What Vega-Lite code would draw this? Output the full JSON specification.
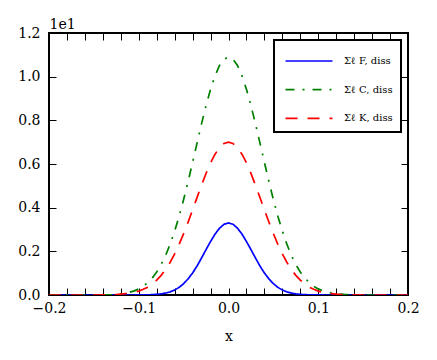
{
  "$schema": "https://vega.github.io/schema/vega-lite/v6.json",
  "width": 359,
  "height": 262,
  "autosize": "none",
  "padding": {"left": 49, "top": 33, "right": 29, "bottom": 65},
  "background": "white",
  "config": {
    "font": "DejaVu Serif",
    "view": {"stroke": "black", "strokeWidth": 2},
    "axis": {"domain": false, "grid": false, "labelFont": "DejaVu Serif", "labelFontSize": 14, "labelColor": "black", "tickColor": "black", "tickWidth": 1, "titleFont": "DejaVu Serif", "titleFontSize": 14, "titleFontWeight": "normal", "titleColor": "black"},
    "legend": {"labelFont": "DejaVu Serif"}
  },
  "data": {"values": [
    {"x": -0.2, "F": 0, "C": 0, "K": 0},
    {"x": -0.15, "F": 0, "C": 0, "K": 0},
    {"x": -0.13, "F": 0, "C": 0.002, "K": 0.001},
    {"x": -0.125, "F": 0, "C": 0.004, "K": 0.002},
    {"x": -0.12, "F": 0, "C": 0.006, "K": 0.004},
    {"x": -0.115, "F": 0, "C": 0.009, "K": 0.006},
    {"x": -0.11, "F": 0, "C": 0.013, "K": 0.008},
    {"x": -0.105, "F": 0.0001, "C": 0.019, "K": 0.012},
    {"x": -0.1, "F": 0.0002, "C": 0.028, "K": 0.018},
    {"x": -0.095, "F": 0.0004, "C": 0.040, "K": 0.026},
    {"x": -0.09, "F": 0.0008, "C": 0.057, "K": 0.036},
    {"x": -0.085, "F": 0.0016, "C": 0.078, "K": 0.050},
    {"x": -0.08, "F": 0.003, "C": 0.105, "K": 0.068},
    {"x": -0.075, "F": 0.005, "C": 0.140, "K": 0.090},
    {"x": -0.07, "F": 0.009, "C": 0.182, "K": 0.117},
    {"x": -0.065, "F": 0.0145, "C": 0.233, "K": 0.150},
    {"x": -0.06, "F": 0.023, "C": 0.293, "K": 0.188},
    {"x": -0.055, "F": 0.035, "C": 0.361, "K": 0.232},
    {"x": -0.05, "F": 0.052, "C": 0.437, "K": 0.281},
    {"x": -0.045, "F": 0.074, "C": 0.520, "K": 0.334},
    {"x": -0.04, "F": 0.101, "C": 0.608, "K": 0.390},
    {"x": -0.035, "F": 0.133, "C": 0.697, "K": 0.447},
    {"x": -0.03, "F": 0.170, "C": 0.785, "K": 0.504},
    {"x": -0.025, "F": 0.208, "C": 0.868, "K": 0.557},
    {"x": -0.02, "F": 0.245, "C": 0.942, "K": 0.605},
    {"x": -0.015, "F": 0.279, "C": 1.004, "K": 0.645},
    {"x": -0.01, "F": 0.306, "C": 1.051, "K": 0.675},
    {"x": -0.005, "F": 0.324, "C": 1.080, "K": 0.694},
    {"x": 0, "F": 0.330, "C": 1.090, "K": 0.700},
    {"x": 0.005, "F": 0.324, "C": 1.080, "K": 0.694},
    {"x": 0.01, "F": 0.306, "C": 1.051, "K": 0.675},
    {"x": 0.015, "F": 0.279, "C": 1.004, "K": 0.645},
    {"x": 0.02, "F": 0.245, "C": 0.942, "K": 0.605},
    {"x": 0.025, "F": 0.208, "C": 0.868, "K": 0.557},
    {"x": 0.03, "F": 0.170, "C": 0.785, "K": 0.504},
    {"x": 0.035, "F": 0.133, "C": 0.697, "K": 0.447},
    {"x": 0.04, "F": 0.101, "C": 0.608, "K": 0.390},
    {"x": 0.045, "F": 0.074, "C": 0.520, "K": 0.334},
    {"x": 0.05, "F": 0.052, "C": 0.437, "K": 0.281},
    {"x": 0.055, "F": 0.035, "C": 0.361, "K": 0.232},
    {"x": 0.06, "F": 0.023, "C": 0.293, "K": 0.188},
    {"x": 0.065, "F": 0.0145, "C": 0.233, "K": 0.150},
    {"x": 0.07, "F": 0.009, "C": 0.182, "K": 0.117},
    {"x": 0.075, "F": 0.005, "C": 0.140, "K": 0.090},
    {"x": 0.08, "F": 0.003, "C": 0.105, "K": 0.068},
    {"x": 0.085, "F": 0.0016, "C": 0.078, "K": 0.050},
    {"x": 0.09, "F": 0.0008, "C": 0.057, "K": 0.036},
    {"x": 0.095, "F": 0.0004, "C": 0.040, "K": 0.026},
    {"x": 0.1, "F": 0.0002, "C": 0.028, "K": 0.018},
    {"x": 0.105, "F": 0.0001, "C": 0.019, "K": 0.012},
    {"x": 0.11, "F": 0, "C": 0.013, "K": 0.008},
    {"x": 0.115, "F": 0, "C": 0.009, "K": 0.006},
    {"x": 0.12, "F": 0, "C": 0.006, "K": 0.004},
    {"x": 0.125, "F": 0, "C": 0.004, "K": 0.002},
    {"x": 0.13, "F": 0, "C": 0.002, "K": 0.001},
    {"x": 0.15, "F": 0, "C": 0, "K": 0},
    {"x": 0.2, "F": 0, "C": 0, "K": 0}
  ]},
  "transform": [{"fold": ["F", "C", "K"], "as": ["series", "value"]}],
  "resolve": {"axis": {"x": "independent", "y": "independent"}},
  "layer": [
    {
      "mark": {"type": "line", "strokeWidth": 1.7, "clip": true},
      "encoding": {
        "x": {"field": "x", "type": "quantitative", "scale": {"domain": [-0.2, 0.2], "nice": false, "zero": false},
          "axis": {"orient": "bottom", "title": "x", "titlePadding": 14, "values": [-0.2, -0.18, -0.16, -0.14, -0.12, -0.1, -0.08, -0.06, -0.04, -0.02, 0, 0.02, 0.04, 0.06, 0.08, 0.1, 0.12, 0.14, 0.16, 0.18, 0.2],
            "labelExpr": "abs(datum.value*10 - round(datum.value*10)) < 1e-6 ? format(datum.value, '.1f') : ''",
            "labelOverlap": false, "labelFlush": false, "labelBound": false, "labelPadding": 13, "tickSize": -7,
            "encode": {"ticks": {"update": {"y2": {"signal": "abs(datum.value*10 - round(datum.value*10)) < 1e-6 ? -7 : -4"}}}}}},
        "y": {"field": "value", "type": "quantitative", "scale": {"domain": [0, 1.2], "nice": false},
          "axis": {"orient": "left", "title": "1e1", "titleAngle": 0, "titleAlign": "left", "titleBaseline": "alphabetic", "titleX": 0, "titleY": -5, "values": [0, 0.2, 0.4, 0.6, 0.8, 1.0, 1.2], "format": ".1f", "tickSize": -7, "labelPadding": 16, "labelOverlap": false, "labelFlush": false, "labelBound": false}},
        "color": {"field": "series", "type": "nominal", "scale": {"domain": ["F", "C", "K"], "range": ["#0000ff", "#008000", "#ff0000"]},
          "legend": {"title": null, "orient": "top-right", "offset": 7, "labelExpr": "datum.label == 'F' ? 'Σℓ F, diss' : datum.label == 'C' ? 'Σℓ C, diss' : 'Σℓ K, diss'", "labelFontSize": 10, "labelColor": "black", "labelOffset": 22, "symbolType": "M-2,0H2", "symbolSize": 552, "symbolStrokeWidth": 1.7, "symbolOffset": 14, "padding": 8, "rowPadding": 10.7, "strokeColor": "black", "fillColor": "white", "cornerRadius": 0,
            "encode": {"legend": {"update": {"strokeWidth": {"value": 2}}}}}},
        "strokeDash": {"field": "series", "type": "nominal", "scale": {"domain": ["F", "C", "K"], "range": [[1, 0], [9, 8, 2, 8], [12, 10]]}, "legend": null}
      }
    },
    {
      "mark": {"type": "line", "opacity": 0},
      "encoding": {
        "x": {"field": "x", "type": "quantitative",
          "axis": {"orient": "top", "title": null, "labels": false, "tickSize": -7, "values": [-0.2, -0.18, -0.16, -0.14, -0.12, -0.1, -0.08, -0.06, -0.04, -0.02, 0, 0.02, 0.04, 0.06, 0.08, 0.1, 0.12, 0.14, 0.16, 0.18, 0.2],
            "encode": {"ticks": {"update": {"y2": {"signal": "abs(datum.value*10 - round(datum.value*10)) < 1e-6 ? 7 : 4"}}}}}},
        "y": {"field": "value", "type": "quantitative",
          "axis": {"orient": "right", "title": null, "labels": false, "values": [0, 0.2, 0.4, 0.6, 0.8, 1.0, 1.2], "tickSize": -7}}
      }
    }
  ]
}
